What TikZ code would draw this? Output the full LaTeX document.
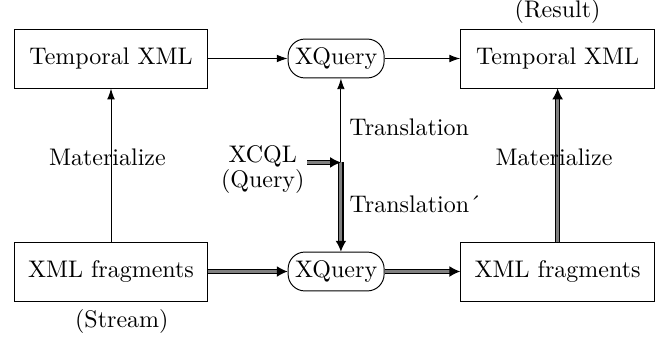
\documentclass[tikz,border=0pt]{standalone}
\usepackage{tikz}
\usetikzlibrary{arrows.meta,positioning}

\begin{document}
\begin{tikzpicture}[
  node distance=63.75pt and 33pt,
  every node/.style={align=center},
  box/.style={draw, minimum width=80.8pt, minimum height=24.6pt},
  query/.style={draw, rounded corners=7pt, minimum width=40pt, minimum height=16.2pt, inner sep=1pt},
  arr/.style={-{Latex[length=4.5pt, width=3.2pt]}},
  dblarr/.style={line width=0.5pt, double=gray, double distance=1.2pt, -{Latex[length=4.5pt, width=4.5pt, fill=black]}}
]
\useasboundingbox (-46.25pt,24.375pt) rectangle (230pt,-116.46pt);
\node[box] (tempL) at (0,0) {Temporal XML};
\node[query, right=33pt of tempL] (qTop) {XQuery};
\node[box, right=31.5pt of qTop] (tempR) {Temporal XML};
\node[box, below=of tempL] (fragL) {XML fragments};
\node[query, right=33pt of fragL] (qBot) {XQuery};
\node[box, right=31.5pt of qBot] (fragR) {XML fragments};
\node[above=2pt of tempR, inner sep=0pt] (result) {(Result)};
\node[below=0pt of fragL, xshift=4.5pt] (stream) {(Stream)};
\coordinate[below=35pt of qTop.south, xshift=2pt] (junc);
\node[left=14pt of junc, yshift=-3pt, inner sep=1pt] (xcql) {XCQL\\[-1.5pt](Query)};
\draw[arr] (tempL) -- (qTop);
\draw[arr] (qTop) -- (tempR);
\draw[arr] (fragL) -- node[pos=0.55, xshift=-1.5pt] {Materialize} (tempL);
\draw[arr] (junc) -- node[right, pos=0.42] {Translation} (junc |- qTop.south);
\draw[dblarr] (junc) -- node[right, pos=0.47] {Translation\'{}} (junc |- qBot.north);
\draw[dblarr] (xcql.east |- junc) -- (junc);
\draw[dblarr] (fragL) -- (qBot);
\draw[dblarr] (qBot) -- (fragR);
\draw[dblarr] (fragR) -- node[pos=0.55, xshift=-1.5pt] {Materialize} (tempR);
\end{tikzpicture}
\end{document}
